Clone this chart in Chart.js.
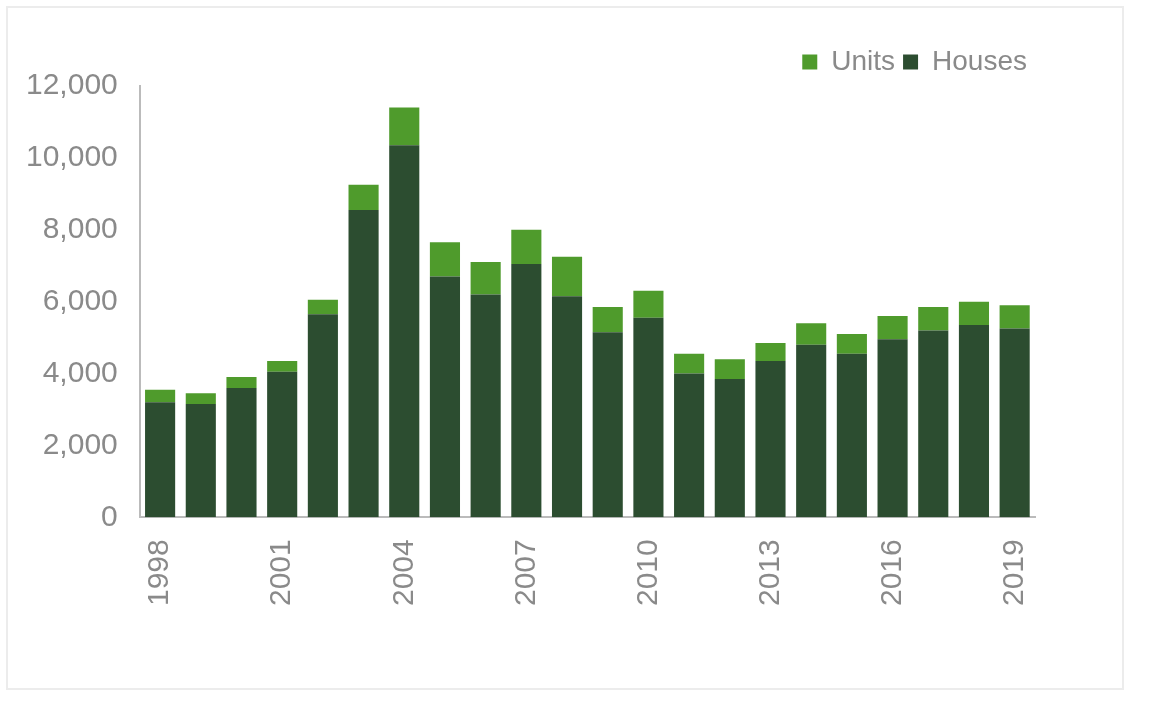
<!DOCTYPE html>
<html><head><meta charset="utf-8">
<script src="https://cdn.jsdelivr.net/npm/chart.js@4"></script>
<style>
body{margin:0;background:#fff;}
#frame{position:absolute;left:6px;top:6px;width:1118px;height:684px;border:2px solid #ececec;box-sizing:border-box;}
#wrap{position:absolute;left:0;top:0;width:1160px;height:640px;}
</style></head><body>
<div id="frame"></div>
<div id="wrap"><canvas id="c"></canvas></div>
<script>
const years=['1998','1999','2000','2001','2002','2003','2004','2005','2006','2007','2008','2009','2010','2011','2012','2013','2014','2015','2016','2017','2018','2019'];
const houses=[3200,3150,3600,4050,5650,8550,10350,6700,6200,7050,6150,5150,5550,4000,3850,4350,4800,4550,4950,5200,5350,5250];
const units=[350,300,300,300,400,700,1050,950,900,950,1100,700,750,550,550,500,600,550,650,650,650,650];
const gray='#8a8a8a';
new Chart(document.getElementById('c'),{
type:'bar',
data:{labels:years,datasets:[
{label:'Houses',data:houses,backgroundColor:'#2c4d30',barPercentage:0.74,categoryPercentage:1},
{label:'Units',data:units,backgroundColor:'#4f9b2c',barPercentage:0.74,categoryPercentage:1}]},
options:{responsive:true,maintainAspectRatio:false,animation:false,
layout:{padding:{left:12,right:125,top:40,bottom:20}},
plugins:{legend:{position:'top',align:'end',reverse:true,
labels:{boxWidth:15,boxHeight:15,color:gray,font:{family:'Liberation Sans',size:28},padding:8}},tooltip:{enabled:false}},
scales:{
x:{stacked:true,grid:{display:false,drawTicks:true,tickLength:8,color:'#bbb'},border:{color:'#bbb',width:2},
ticks:{autoSkip:false,minRotation:90,maxRotation:90,padding:14,color:gray,font:{family:'Liberation Sans',size:30},
callback:function(v,i){return i%3===0?years[i]:'';}}},
y:{stacked:true,min:0,max:12000,grid:{display:false,tickLength:8},border:{color:'#bbb',width:2},
ticks:{stepSize:2000,color:gray,font:{family:'Liberation Sans',size:30},padding:14}}}}
});
</script></body></html>
